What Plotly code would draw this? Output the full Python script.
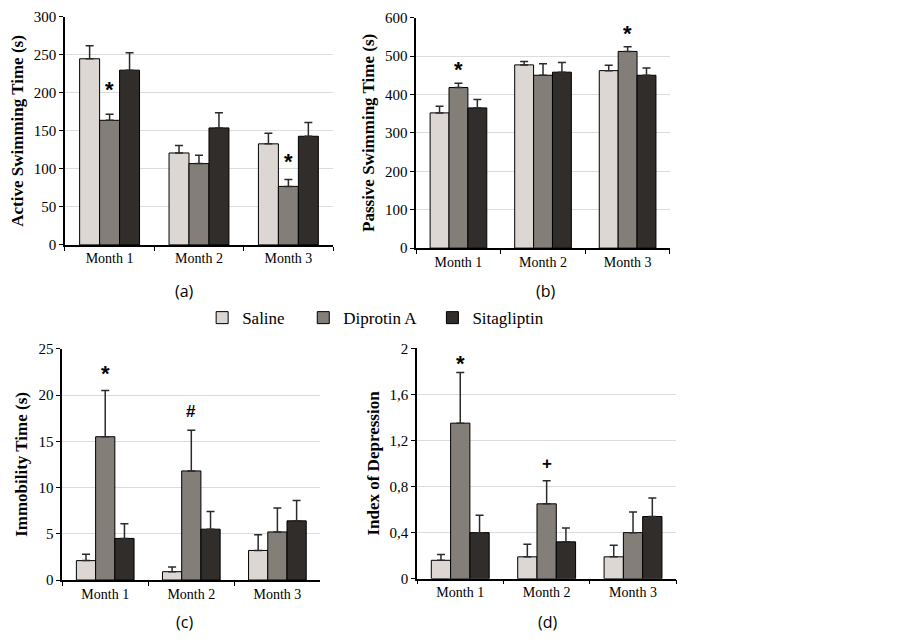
import plotly.graph_objects as go
from plotly.subplots import make_subplots

# Данные
months = ["Month 1", "Month 2", "Month 3"]
groups = ["Saline", "Diprotin A", "Sitagliptin"]
colors = ["#ddd7d4", "#847e79", "#312d2a"]

active_mean = [[245, 121, 133], [164, 107, 77], [230, 154, 143]]
active_err = [[17, 10, 14], [8, 11, 9], [23, 20, 18]]

passive_mean = [[352, 477, 462], [418, 450, 512], [365, 458, 450]]
passive_err = [[17, 9, 14], [11, 30, 12], [22, 25, 19]]

immob_mean = [[2.1, 0.9, 3.2], [15.5, 11.8, 5.2], [4.5, 5.5, 6.4]]
immob_err = [[0.7, 0.5, 1.7], [5.0, 4.4, 2.6], [1.6, 1.9, 2.2]]

index_mean = [[0.16, 0.19, 0.19], [1.35, 0.65, 0.40], [0.40, 0.32, 0.54]]
index_err = [[0.05, 0.11, 0.10], [0.44, 0.20, 0.18], [0.15, 0.12, 0.16]]

# значки значимости: (панель, месяц, символ, высота)
marks = [
    (1, "Month 1", "*", 205), (1, "Month 3", "*", 110),
    (2, "Month 1", "*", 465), (2, "Month 3", "*", 560),
    (3, "Month 1", "*", 22.3), (3, "Month 2", "#", 18.2),
    (4, "Month 1", "*", 1.87), (4, "Month 2", "+", 1.0),
]

panels = [
    (active_mean, active_err, 1, 1, "Active Swimming Time (s)", [0, 300], 50),
    (passive_mean, passive_err, 1, 2, "Passive Swimming Time (s)", [0, 600], 100),
    (immob_mean, immob_err, 2, 1, "Immobility Time (s)", [0, 25], 5),
    (index_mean, index_err, 2, 2, "Index of Depression", [0, 2], 0.4),
]

fig = make_subplots(rows=2, cols=2)

serif = "Times New Roman, Liberation Serif, serif"
legend_names = ["legend", "legend2", "legend3"]

for k, (means, errs, r, c, title, rng, dt) in enumerate(panels):
    for i, g in enumerate(groups):
        fig.add_trace(go.Bar(
            x=months, y=means[i], name=g, legend=legend_names[i],
            marker=dict(color=colors[i], line=dict(color="black", width=1)),
            error_y=dict(type="data", array=errs[i], arrayminus=[0, 0, 0],
                         symmetric=False, color="#2a2a2a", thickness=1.5, width=4),
            showlegend=(k == 0),
        ), row=r, col=c)
    fig.update_yaxes(
        title=dict(text="<b>" + title + "</b>", font=dict(family=serif, size=17, color="black"),
                   standoff=6),
        range=rng, dtick=dt, showgrid=True, gridcolor="#dcdcdc", gridwidth=1,
        showline=True, linecolor="black", linewidth=1.5,
        ticks="outside", ticklen=4, tickcolor="black",
        tickfont=dict(family=serif, size=15, color="black"),
        zeroline=False, automargin=False, row=r, col=c)
    fig.update_xaxes(
        showline=True, linecolor="black", linewidth=1.5,
        ticks="outside", tickson="boundaries", ticklen=4, tickcolor="black",
        tickfont=dict(family=serif, size=14, color="black"),
        showgrid=False, automargin=False, row=r, col=c)

# запятые вместо точек
fig.update_layout(yaxis4=dict(tickvals=[0, 0.4, 0.8, 1.2, 1.6, 2],
                              ticktext=["0", "0,4", "0,8", "1,2", "1,6", "2"]))

# области графиков (страница сдвинута на 8px отступом body)
fig.update_layout(
    xaxis=dict(domain=[0.063, 0.360]), yaxis=dict(domain=[0.631, 0.986]),
    xaxis2=dict(domain=[0.452, 0.733]), yaxis2=dict(domain=[0.626, 0.985]),
    xaxis3=dict(domain=[0.060, 0.346]), yaxis3=dict(domain=[0.109, 0.469]),
    xaxis4=dict(domain=[0.453, 0.740]), yaxis4_domain=[0.111, 0.470],
)

for p, m, s, h in marks:
    fig.add_annotation(x=m, y=h, text="<b>" + s + "</b>", showarrow=False,
                       xref="x" if p == 1 else "x%d" % p,
                       yref="y" if p == 1 else "y%d" % p,
                       font=dict(family="Liberation Sans", size=22 if s == "*" else 17,
                                 color="black"))

# подписи панелей
for lbl, x, y in [("(a)", 0.196, 0.559), ("(b)", 0.596, 0.559),
                  ("(c)", 0.196, 0.044), ("(d)", 0.598, 0.044)]:
    fig.add_annotation(x=x, y=y, xref="paper", yref="paper", text=lbl,
                       xanchor="center", yanchor="middle", showarrow=False,
                       font=dict(family="Open Sans", size=16, color="black"))

leg = dict(orientation="h", xanchor="left", y=0.517, yanchor="middle",
           font=dict(family=serif, size=17, color="black"), itemwidth=30)

fig.update_layout(
    width=903, height=642,
    margin=dict(l=0, r=0, t=0, b=0, pad=0),
    barmode="group", bargap=0.33, bargroupgap=0,
    plot_bgcolor="white", paper_bgcolor="white",
    font=dict(family=serif, color="black"),
    legend=dict(leg, x=0.215),
    legend2=dict(leg, x=0.327),
    legend3=dict(leg, x=0.470),
)

fig.write_html("out.html")
